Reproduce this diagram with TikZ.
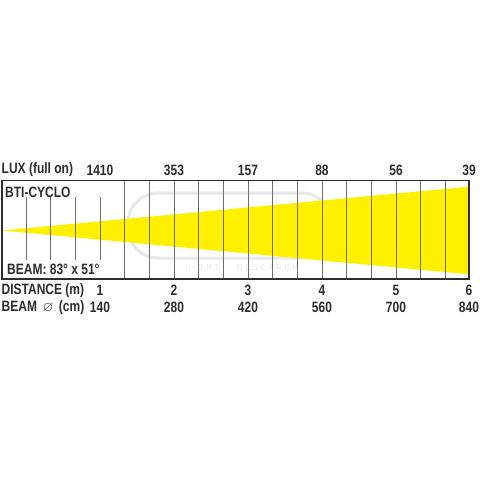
\documentclass[tikz,border=0pt]{standalone}
\usepackage{amssymb}
\usepackage{fontspec}
\setmainfont{Liberation Sans}[FakeStretch=0.8]
\definecolor{beamy}{RGB}{255,240,0}
\definecolor{txtc}{RGB}{45,45,45}
\definecolor{gridc}{RGB}{110,110,110}
\definecolor{wmc}{RGB}{232,232,232}
\begin{document}
\begin{tikzpicture}[x=1pt,y=-1pt,
  lbl/.style={font=\fontsize{15}{18}\selectfont\bfseries, text=txtc, inner sep=0pt},
  gridline/.style={draw=gridc, line width=0.9pt},
  framebox/.style={draw=txtc, line width=1.2pt}]
\useasboundingbox[fill=white] (0,0) rectangle (480,480);
% watermark
\draw[wmc, line width=3pt, rounded corners=30pt] (128,193) rectangle (332,258);
\node[font=\fontsize{9}{10}\selectfont, text=wmc, inner sep=0pt] (wm) at (242,267) {L\,\,I\,\,G\,\,H\,\,T\qquad R\,\,E\,\,S\,\,E\,\,A\,\,R\,\,C\,\,H};
% beam
\coordinate (apex) at (2,230.5);
\coordinate (bt) at (469,186.7);
\coordinate (bb) at (469,274.3);
\fill[beamy] (apex) -- (bt) -- (bb) -- cycle;
% short grid lines
\foreach \i in {0,1,2,3} {
  \draw[gridline] (26+24.667*\i,197) -- (26+24.667*\i,260);
}
% full grid lines
\foreach \i in {4,...,17} {
  \draw[gridline] (26+24.667*\i,180.7) -- (26+24.667*\i,279);
}
% frame
\draw[framebox] (2,180.7) rectangle (469,279);
% labels
\node[lbl, anchor=west] (lux) at (1.5,170) {LUX (full on)};
\node[lbl, anchor=west] (model) at (5,192) {BTI-CYCLO};
\node[lbl, anchor=west] (beamang) at (7,269) {BEAM: 83° x 51°};
\node[lbl, anchor=west] (dist) at (1.5,290.5) {DISTANCE (m)};
\node[lbl, anchor=west] (bdia) at (1.5,307.5) {BEAM\hspace{5.5pt}\smash{\fontsize{14}{14}\selectfont\mdseries$\varnothing$}\hspace{5.5pt}(cm)};
\foreach \x/\l/\d/\b [count=\n] in {100/1410/1/140, 174/353/2/280, 248/157/3/420, 322/88/4/560, 396/56/5/700, 469/39/6/840} {
  \node[lbl] (lux\n) at (\x,170) {\l};
  \node[lbl] (d\n) at (\x,290.5) {\d};
  \node[lbl] (b\n) at (\x,307.5) {\b};
}
\end{tikzpicture}
\end{document}
